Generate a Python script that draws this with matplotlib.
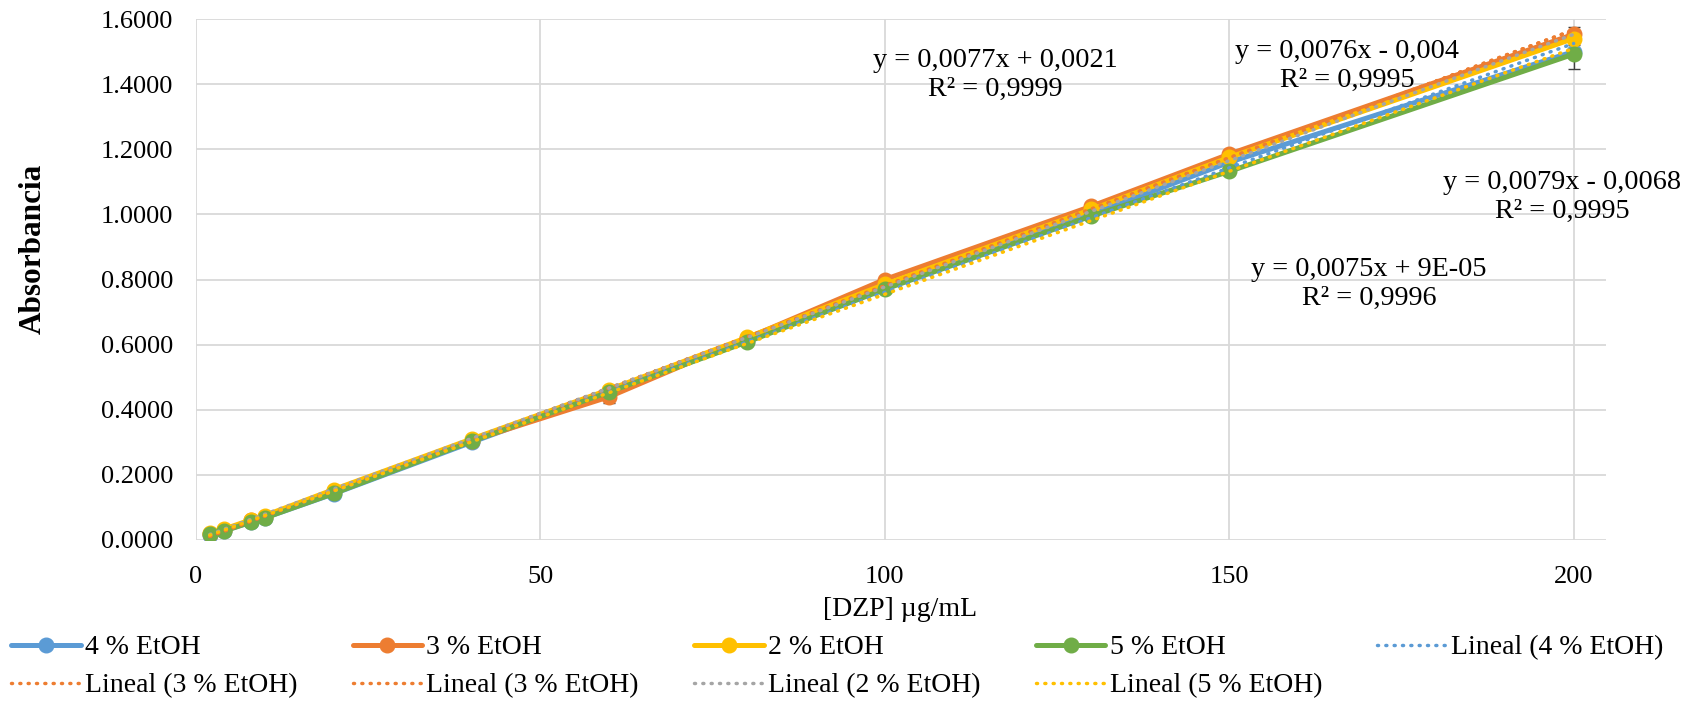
import matplotlib

matplotlib.use("Agg")
import matplotlib.pyplot as plt
import numpy as np

plt.rcParams["font.family"] = ["Liberation Serif", "DejaVu Serif"]

# DZP concentration (ug/mL) and absorbance per EtOH level
conc = [2, 4, 8, 10, 20, 40, 60, 80, 100, 130, 150, 200]
abs_4 = [0.015, 0.028, 0.055, 0.068, 0.142, 0.300, 0.455, 0.610, 0.775, 1.000, 1.160, 1.500]
abs_3 = [0.018, 0.030, 0.060, 0.072, 0.150, 0.305, 0.440, 0.620, 0.800, 1.025, 1.185, 1.553]
abs_2 = [0.020, 0.033, 0.062, 0.075, 0.155, 0.310, 0.462, 0.622, 0.785, 1.015, 1.175, 1.540]
abs_5 = [0.018, 0.027, 0.055, 0.068, 0.143, 0.303, 0.455, 0.608, 0.770, 0.995, 1.132, 1.492]
err_4 = [0.003, 0.003, 0.004, 0.004, 0.004, 0.005, 0.006, 0.006, 0.006, 0.008, 0.010, 0.020]
err_3 = [0.003, 0.003, 0.004, 0.004, 0.005, 0.006, 0.020, 0.006, 0.008, 0.010, 0.012, 0.022]
err_2 = [0.003, 0.003, 0.004, 0.004, 0.004, 0.005, 0.006, 0.006, 0.006, 0.008, 0.010, 0.015]
err_5 = [0.003, 0.003, 0.004, 0.004, 0.004, 0.005, 0.006, 0.006, 0.006, 0.008, 0.010, 0.045]

equations = [
    ("y = 0,0077x + 0,0021\nR² = 0,9999", 995, 75),
    ("y = 0,0076x - 0,004\nR² = 0,9995", 1347, 66),
    ("y = 0,0079x - 0,0068\nR² = 0,9995", 1562, 197),
    ("y = 0,0075x + 9E-05\nR² = 0,9996", 1369, 284),
]

BLUE = "#5B9BD5"
ORANGE = "#ED7D31"
YELLOW = "#FFC000"
GREEN = "#70AD47"
GREY = "#A5A5A5"

W, H = 1683, 701
fig = plt.figure(figsize=(W / 100, H / 100), dpi=100)
ax = fig.add_axes([196 / W, 1 - 540 / H, (1606 - 196) / W, (540 - 19) / H])

series = [
    ("4 % EtOH", abs_4, err_4, BLUE),
    ("3 % EtOH", abs_3, err_3, ORANGE),
    ("2 % EtOH", abs_2, err_2, YELLOW),
    ("5 % EtOH", abs_5, err_5, GREEN),
]
handles = []
for label, ys, err, color in series:
    ax.errorbar(conc, ys, yerr=err, fmt="none", ecolor="#404040", elinewidth=1,
                capsize=4, capthick=1, zorder=2)
    (line,) = ax.plot(conc, ys, color=color, lw=3.6, marker="o", markersize=10.5,
                      solid_capstyle="round", label=label, zorder=3)
    handles.append(line)

trends = [
    ("Lineal (4 % EtOH)", abs_4, BLUE),
    ("Lineal (3 % EtOH)", abs_3, ORANGE),
    ("Lineal (3 % EtOH)", abs_3, ORANGE),
    ("Lineal (2 % EtOH)", abs_2, GREY),
    ("Lineal (5 % EtOH)", abs_5, YELLOW),
]
xs = np.array([min(conc), max(conc)])
for label, ys, color in trends:
    m, b = np.polyfit(conc, ys, 1)
    (tl,) = ax.plot(xs, m * xs + b, color=color, lw=2.5, dashes=(0.3, 2.1),
                    dash_capstyle="round", label=label, zorder=4)
    handles.append(tl)

ax.set_xlim(0, 204.7)
ax.set_ylim(0, 1.6)
ax.set_xticks([0, 50, 100, 150, 200])
ax.set_yticks(np.arange(0, 1.61, 0.2))
ax.set_yticklabels([f"{v:.4f}" for v in np.arange(0, 1.61, 0.2)])
ax.tick_params(length=0, labelsize=19)
ax.tick_params(axis="y", pad=16.5)
ax.tick_params(axis="x", pad=19)
ax.grid(True, color="#D9D9D9", lw=1.3)
ax.set_axisbelow(True)
for s in ax.spines.values():
    s.set_visible(False)

fig.text(900 / W, 1 - 609 / H, "[DZP] µg/mL", ha="center", va="center", fontsize=20)
fig.text(33 / W, 1 - 249 / H, "Absorbancia", ha="center", va="center", rotation=90,
         fontsize=22.5, fontweight="bold")

for txt, x, y in equations:
    fig.text(x / W, 1 - y / H, txt, ha="center", va="center", fontsize=20.3,
             multialignment="center", linespacing=1.2)

# row-wise order for a 5-column legend (matplotlib fills columns first)
order = [0, 5, 1, 6, 2, 7, 3, 8, 4]
fig.legend([handles[i] for i in order], [handles[i].get_label() for i in order],
           ncol=5, loc="lower left", bbox_to_anchor=(0.0, -0.012, 0.995, 0.1),
           mode="expand", frameon=False, fontsize=20, handlelength=2.5,
           handletextpad=0.15, numpoints=1, borderaxespad=0.0, labelspacing=0.45)

fig.savefig("out.png", dpi=100)
